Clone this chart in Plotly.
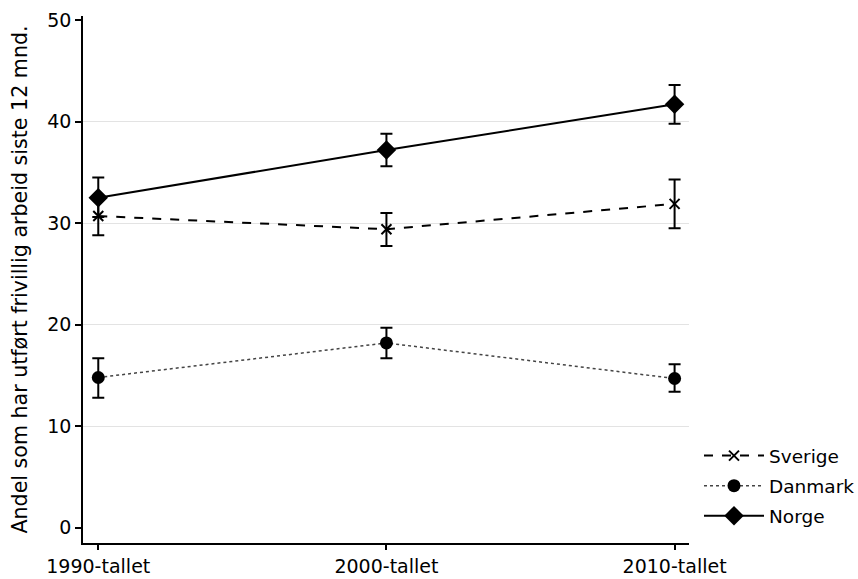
import plotly.graph_objects as go

categories = ["1990-tallet", "2000-tallet", "2010-tallet"]

sverige = [30.7, 29.4, 31.9]
sverige_lo = [28.8, 27.75, 29.5]
sverige_hi = [32.6, 31.0, 34.3]

danmark = [14.8, 18.2, 14.7]
danmark_lo = [12.8, 16.7, 13.4]
danmark_hi = [16.7, 19.7, 16.1]

norge = [32.5, 37.2, 41.7]
norge_lo = [30.6, 35.6, 39.8]
norge_hi = [34.5, 38.8, 43.6]

y_ticks = [0, 10, 20, 30, 40, 50]
grid_ticks = [10, 20, 30, 40]

xi = list(range(len(categories)))
FONT = "DejaVu Sans, Liberation Sans, Arial, sans-serif"


def err(vals, lo, hi):
    return dict(type="data", symmetric=False,
                array=[h - v for v, h in zip(vals, hi)],
                arrayminus=[v - l for v, l in zip(vals, lo)],
                color="black", thickness=2, width=6)


fig = go.Figure()
fig.add_trace(go.Scatter(
    x=xi, y=sverige, name="Sverige", mode="lines+markers", legendgroup="s",
    line=dict(color="black", width=2, dash="dash"),
    marker=dict(symbol="x-thin", size=10, line=dict(color="black", width=2)),
    error_y=err(sverige, sverige_lo, sverige_hi)))
fig.add_trace(go.Scatter(
    x=xi, y=danmark, name="Danmark", mode="lines+markers", legendgroup="d",
    line=dict(color="#444444", width=1.5, dash="dot"),
    marker=dict(symbol="circle", size=13, color="black"),
    error_y=err(danmark, danmark_lo, danmark_hi)))
fig.add_trace(go.Scatter(
    x=xi, y=norge, name="Norge", mode="lines+markers", legendgroup="n",
    line=dict(color="black", width=2),
    marker=dict(symbol="diamond", size=15, color="black"),
    error_y=err(norge, norge_lo, norge_hi)))

# invisible trace on secondary axis to host gridlines
fig.add_trace(go.Scatter(x=[xi[0]], y=[grid_ticks[0]], yaxis="y2",
                         mode="markers", marker=dict(opacity=0),
                         showlegend=False, hoverinfo="skip"))

yr = [-1.5, 50.4]
fig.update_layout(
    width=858, height=579,
    margin=dict(l=83, r=169, t=16, b=36, autoexpand=False),
    paper_bgcolor="white", plot_bgcolor="white",
    font=dict(family=FONT, size=19, color="black"),
    xaxis=dict(range=[-0.053, 2.05], tickvals=xi, ticktext=categories,
               showgrid=False, zeroline=False, showline=True,
               linecolor="black", linewidth=1.5, ticks="outside",
               ticklen=5, tickwidth=1.5, tickcolor="black",
               tickfont=dict(size=19), automargin=False),
    yaxis=dict(range=yr, tickvals=y_ticks, showgrid=False, zeroline=False,
               showline=True, linecolor="black", linewidth=1.5,
               ticks="outside", ticklen=6, tickwidth=1.5, tickcolor="black",
               tickfont=dict(size=19), automargin=False,
               title=dict(text="Andel som har utført frivillig arbeid siste 12 mnd.",
                          font=dict(size=20.6), standoff=14)),
    yaxis2=dict(range=yr, overlaying="y", tickvals=grid_ticks,
                showgrid=True, gridcolor="#e3e3e3", gridwidth=1,
                showticklabels=False, zeroline=False, showline=False,
                automargin=False, layer="below traces"),
    legend=dict(x=1.0165, y=0.201, xanchor="left", yanchor="top",
                font=dict(size=18.5), itemwidth=60, tracegroupgap=3,
                bgcolor="rgba(0,0,0,0)"),
)

fig.write_html("out.html", config={"displayModeBar": False},
               post_script="document.body.style.margin='0';"
                           "document.body.style.overflow='hidden';")
